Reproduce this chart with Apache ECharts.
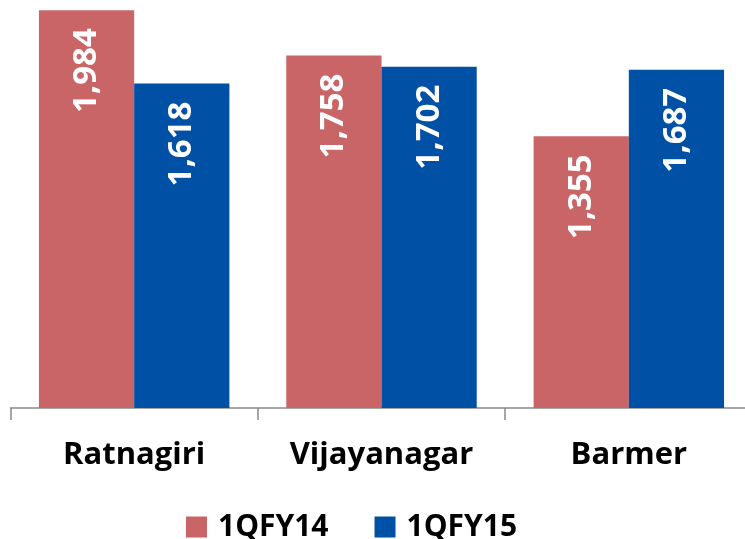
<!DOCTYPE html>
<html>
<head>
<meta charset="utf-8">
<script src="https://cdn.jsdelivr.net/npm/echarts@6/dist/echarts.min.js"></script>
<style>
  html, body { margin: 0; padding: 0; background: #fff; }
  #main { width: 745px; height: 539px; }
</style>
</head>
<body>
<div id="main"></div>
<script>
// data
var categories = ["Ratnagiri", "Vijayanagar", "Barmer"];
var fy14 = [1984, 1758, 1355];
var fy15 = [1618, 1702, 1687];
var seriesNames = ["1QFY14", "1QFY15"];

var myChart = echarts.init(document.getElementById("main"));

function fmt(p) {
  return p.value.toLocaleString("en-US");
}

var barLabel = {
  show: true,
  position: "insideTop",
  rotate: 90,
  align: "right",
  verticalAlign: "middle",
  distance: 18,
  color: "#fff",
  fontFamily: "Open Sans",
  fontWeight: "bold",
  fontSize: 33,
  formatter: fmt,
};

var option = {
  animation: false,
  color: ["#CA6567", "#0051A5"],
  legend: {
    data: seriesNames,
    left: 181,
    top: 507,
    itemWidth: 21,
    itemHeight: 21,
    itemGap: 46,
    icon: "rect",
    textStyle: {
      fontFamily: "Open Sans",
      fontWeight: "bold",
      fontSize: 30,
      color: "#000",
      padding: [0, 0, 0, 6],
    },
  },
  grid: {
    left: 10.5,
    width: 742,
    top: 7,
    bottom: 131,
    outerBoundsMode: "none",
  },
  xAxis: {
    type: "category",
    data: categories,
    axisLine: {
      lineStyle: { color: "#898989", width: 1.5 },
    },
    axisTick: {
      show: true,
      length: 12,
      lineStyle: { color: "#898989", width: 1.5 },
    },
    axisLabel: {
      margin: 32,
      color: "#000",
      fontFamily: "Open Sans",
      fontWeight: "bold",
      fontSize: 31,
    },
  },
  yAxis: {
    type: "value",
    min: 0,
    max: 2000,
    show: false,
    splitLine: { show: false },
  },
  series: [
    {
      name: seriesNames[0],
      type: "bar",
      data: fy14,
      barGap: "0%",
      barCategoryGap: "23%",
      label: barLabel,
    },
    {
      name: seriesNames[1],
      type: "bar",
      data: fy15,
      barGap: "0%",
      barCategoryGap: "23%",
      label: barLabel,
    },
  ],
};

myChart.setOption(option);
</script>
</body>
</html>
